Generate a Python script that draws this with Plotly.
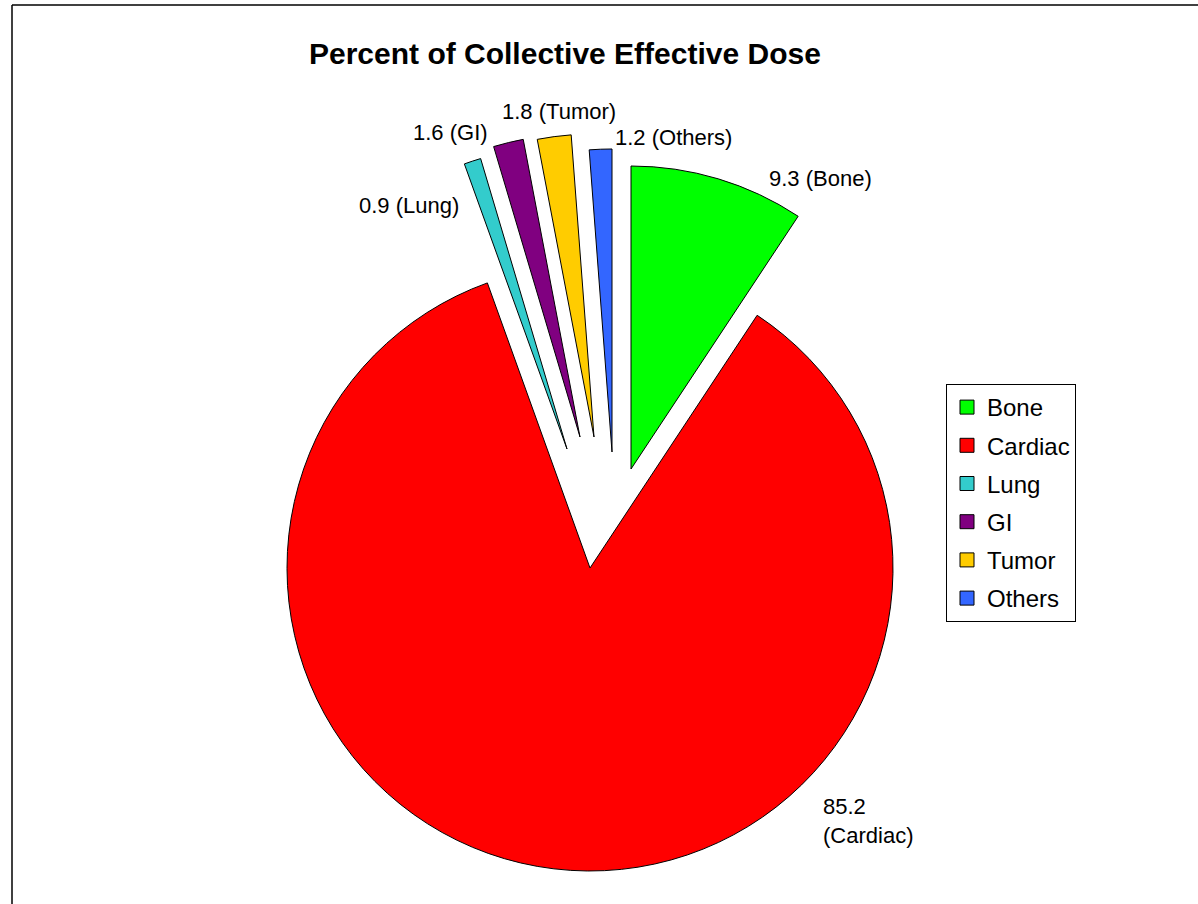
import plotly.graph_objects as go

# ---- data ----
labels = ["Bone", "Cardiac", "Lung", "GI", "Tumor", "Others"]
values = [9.3, 85.2, 0.9, 1.6, 1.8, 1.2]
colors = ["#00FF00", "#FF0000", "#33CCCC", "#800080", "#FFCC00", "#3366FF"]
title_text = "Percent of Collective Effective Dose"

# ---- layout constants (pixels) ----
W, H = 1198, 904
R = 303
FONT = "Arial, 'Liberation Sans', Helvetica, sans-serif"
# wedge apex position for each (exploded) slice
apex = {
    "Bone": (631, 469),
    "Cardiac": (590, 568),
    "Lung": (567, 449),
    "GI": (580, 437),
    "Tumor": (594, 437),
    "Others": (612, 452),
}
# label anchor (left, middle) positions
label_pos = {
    "Bone": (767, 178),
    "Cardiac": (821, 821),
    "Lung": (357, 205),
    "GI": (411, 132),
    "Tumor": (500, 112),
    "Others": (613, 138),
}

fig = go.Figure()

# one pie per wedge so each wedge can be exploded independently
for lab in labels:
    cx, cy = apex[lab]
    fig.add_trace(go.Pie(
        labels=labels,
        values=values,
        sort=False,
        direction="clockwise",
        rotation=0,
        textinfo="none",
        hoverinfo="label+value",
        showlegend=False,
        marker=dict(
            colors=[c if l == lab else "rgba(0,0,0,0)" for l, c in zip(labels, colors)],
            line=dict(color="#000000",
                      width=[1 if l == lab else 0 for l in labels]),
        ),
        domain=dict(
            x=[(cx - R) / W, (cx + R) / W],
            y=[1 - (cy + R) / H, 1 - (cy - R) / H],
        ),
    ))

# legend entries
for i, (lab, col) in enumerate(zip(labels, colors)):
    fig.add_trace(go.Scatter(
        x=[None], y=[None], mode="markers", name=lab,
        legendgroup=f"g{i}",
        marker=dict(symbol="square", size=14, color=col,
                    line=dict(color="#000000", width=1)),
    ))

annotations = []
for lab, val in zip(labels, values):
    x, y = label_pos[lab]
    txt = f"{val}<br>({lab})" if lab == "Cardiac" else f"{val} ({lab})"
    annotations.append(dict(
        x=x / W, y=1 - y / H, xref="paper", yref="paper",
        text=txt, showarrow=False, xanchor="left", yanchor="middle",
        align="left", font=dict(family=FONT, size=22, color="#000000"),
    ))
annotations.append(dict(
    x=565 / W, y=1 - 53 / H, xref="paper", yref="paper",
    text=f"<b>{title_text}</b>", showarrow=False,
    xanchor="center", yanchor="middle",
    font=dict(family=FONT, size=30, color="#000000"),
))

fig.update_layout(
    width=W, height=H,
    margin=dict(l=0, r=0, t=0, b=0),
    paper_bgcolor="white", plot_bgcolor="white",
    font=dict(family=FONT, size=22, color="#000000"),
    xaxis=dict(visible=False), yaxis=dict(visible=False),
    showlegend=True,
    legend=dict(
        x=946 / W, y=1 - 384 / H, xanchor="left", yanchor="top",
        bordercolor="#000000", borderwidth=1, bgcolor="white",
        traceorder="grouped", tracegroupgap=4,
        font=dict(family=FONT, size=24, color="#000000"),
    ),
    annotations=annotations,
    shapes=[
        dict(type="line", xref="paper", yref="paper",
             x0=12 / W, x1=12 / W, y0=0, y1=1 - 5 / H,
             line=dict(color="#000000", width=1.5)),
        dict(type="line", xref="paper", yref="paper",
             x0=12 / W, x1=1, y0=1 - 5 / H, y1=1 - 5 / H,
             line=dict(color="#000000", width=1.5)),
    ],
)

fig.write_html("out.html")
